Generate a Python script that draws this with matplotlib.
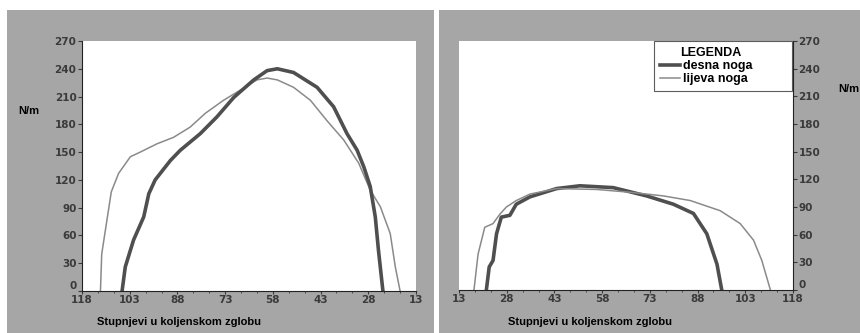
import matplotlib.pyplot as plt
from matplotlib.patches import Rectangle
from matplotlib.ticker import MultipleLocator
from matplotlib.transforms import ScaledTranslation

# =========================
# DATA (ocitano sa slike)
# =========================
# lijevi graf - os x ide od 118 prema 13
l_desna_x = [105.4, 104.4, 101.8, 98.6, 97.0, 95.0, 90.2, 87.1, 80.8, 75.6, 70.3, 64.0,
             59.8, 56.6, 51.5, 44.1, 38.9, 34.7, 31.5, 29.4, 27.4, 25.8, 24.8, 23.4]
l_desna_y = [0, 26, 55, 80, 105, 120, 141, 152, 170, 188, 209, 228,
             238, 240, 236, 220, 199, 170, 152, 134, 113, 80, 44, 0]
l_lijeva_x = [112.2, 111.8, 108.8, 106.5, 102.8, 99.7, 94.4, 89.2, 84.0, 79.2, 73.5, 68.2,
              63.0, 59.8, 56.6, 51.5, 46.2, 41.0, 35.7, 31.0, 27.4, 24.2, 21.1, 19.5, 18.0]
l_lijeva_y = [0, 40, 107, 127, 145, 150, 159, 166, 177, 192, 206, 217,
              228, 230, 228, 220, 206, 184, 163, 138, 109, 91, 62, 26, 0]

# desni graf - os x ide od 13 prema 118
r_desna_x = [21.6, 22.5, 23.7, 24.8, 26.3, 29.0, 31.0, 35.3, 43.7, 51.0, 61.5, 72.0,
             80.4, 86.7, 90.9, 94.1, 95.6]
r_desna_y = [0, 25, 32, 61, 79, 81, 93, 101, 110, 113, 111, 102,
             93, 83, 61, 28, 0]
r_lijeva_x = [17.7, 19.0, 21.1, 23.7, 25.8, 27.9, 31.0, 35.3, 43.7, 56.3, 66.8, 77.3,
              85.7, 95.1, 101.4, 105.6, 108.2, 110.9]
r_lijeva_y = [0, 39, 68, 72, 82, 90, 97, 104, 110, 109, 106, 102,
              97, 86, 72, 54, 32, 0]

x_ticks = [118, 103, 88, 73, 58, 43, 28, 13]
y_ticks = [0, 30, 60, 90, 120, 150, 180, 210, 240, 270]

xlabel = "Stupnjevi u koljenskom zglobu"
ylabel = "N/m"

# =========================
# STIL
# =========================
bg = "#a6a6a6"
c_desna = "#4f4f4f"
c_lijeva = "#8a8a8a"

fig = plt.figure(figsize=(8.6, 3.33), dpi=100)
fig.patch.set_facecolor("white")
fig.add_artist(Rectangle((7 / 860, 0), 427 / 860, 323 / 333, transform=fig.transFigure,
                         facecolor=bg, edgecolor="none", zorder=0))
fig.add_artist(Rectangle((439 / 860, 0), 421 / 860, 323 / 333, transform=fig.transFigure,
                         facecolor=bg, edgecolor="none", zorder=0))

ax1 = fig.add_axes([82 / 860, 42 / 333, 334 / 860, 250 / 333])
ax2 = fig.add_axes([459 / 860, 43 / 333, 334 / 860, 249 / 333])


def uredi(ax, desno):
    ax.set_facecolor("white")
    ax.set_ylim(0, 270)
    ax.set_yticks(y_ticks)
    ax.set_xticks(x_ticks)
    ax.xaxis.set_minor_locator(MultipleLocator(5, offset=3))
    for s in ax.spines.values():
        s.set_visible(False)
    ax.spines["bottom"].set_visible(True)
    ax.spines["bottom"].set_color("#222")
    strana = "right" if desno else "left"
    ax.spines[strana].set_visible(True)
    ax.spines[strana].set_color("#222")
    ax.tick_params(axis="x", length=2, pad=1, colors="#3a3a3a", labelsize=7.5)
    ax.tick_params(axis="x", which="minor", length=1.5, colors="#3a3a3a")
    ax.tick_params(axis="y", length=3, pad=1, colors="#3a3a3a", labelsize=7.5,
                   left=not desno, labelleft=not desno, right=desno, labelright=desno)
    for lab in ax.get_xticklabels() + ax.get_yticklabels():
        lab.set_fontweight("bold")
    # nula na y osi malo iznad, kao na originalu
    nula = ax.get_yticklabels()[0]
    nula.set_transform(nula.get_transform() + ScaledTranslation(0, 4 / 72, fig.dpi_scale_trans))


# lijevi graf
ax1.plot(l_lijeva_x, l_lijeva_y, color=c_lijeva, lw=1.1)
ax1.plot(l_desna_x, l_desna_y, color=c_desna, lw=2.6)
ax1.set_xlim(118, 13)
uredi(ax1, False)

# desni graf
ax2.plot(r_desna_x, r_desna_y, color=c_desna, lw=2.6, label="desna noga")
ax2.plot(r_lijeva_x, r_lijeva_y, color=c_lijeva, lw=1.1, label="lijeva noga")
ax2.set_xlim(13, 118)
uredi(ax2, True)

leg = ax2.legend(loc="upper left", bbox_to_anchor=(0.584, 0.823, 0.413, 0.177),
                 mode="expand", title="LEGENDA", alignment="left",
                 frameon=True, fancybox=False, edgecolor="#333", handlelength=1.6,
                 handletextpad=0.3, borderpad=0.45, labelspacing=0.1, borderaxespad=0,
                 prop=dict(family="Liberation Sans", weight="bold", size=9))
leg.get_title().set_fontweight("bold")
leg.get_title().set_fontsize(9)
leg.get_title().set_family("Liberation Sans")
leg.get_title().set_position((20, 0))
leg.get_frame().set_linewidth(0.8)

# natpisi osi
fig.text(97 / 860, 1 - 322 / 333, xlabel, fontsize=8, fontweight="bold",
         family="Liberation Sans", va="center", ha="left")
fig.text(508 / 860, 1 - 322 / 333, xlabel, fontsize=8, fontweight="bold",
         family="Liberation Sans", va="center", ha="left")
fig.text(18 / 860, 1 - 111 / 333, ylabel, fontsize=8, fontweight="bold",
         family="Liberation Sans", va="center", ha="left")
fig.text(838 / 860, 1 - 89 / 333, ylabel, fontsize=8, fontweight="bold",
         family="Liberation Sans", va="center", ha="left")

fig.savefig("out.png", dpi=100)
